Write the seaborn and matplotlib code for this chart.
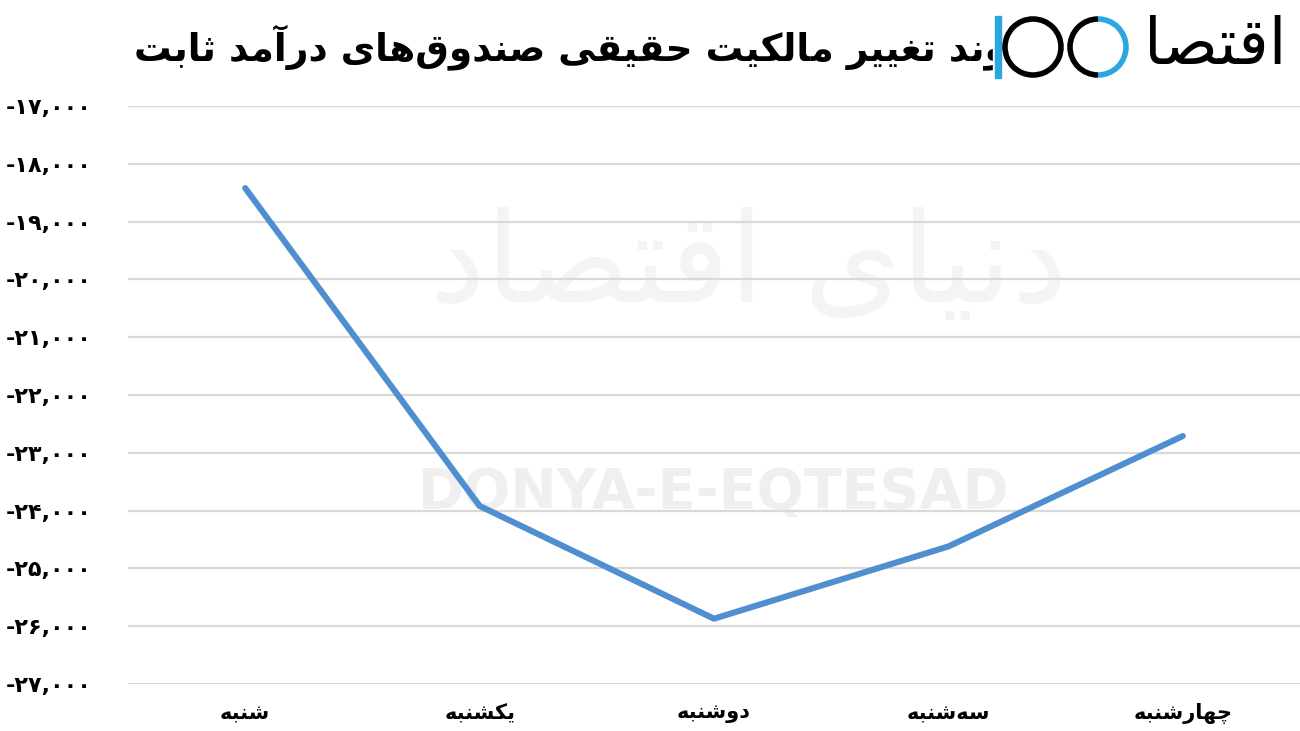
import matplotlib
matplotlib.use("Agg")
import matplotlib.pyplot as plt
import seaborn as sns
import pandas as pd
from matplotlib.patches import Rectangle, Arc

# data
title = "روند تغییر مالکیت حقیقی صندوق‌های درآمد ثابت"
days = ["شنبه", "یکشنبه", "دوشنبه", "سه‌شنبه", "چهارشنبه"]
flow = [-18420, -23920, -25870, -24620, -22710]
y_ticks = list(range(-17000, -28000, -1000))

# contextual forms (isolated, final, initial, medial) for the letters used
FORMS = {
    "ا": ("\uFE8D", "\uFE8E"), "آ": ("\uFE81", "\uFE82"),
    "د": ("\uFEA9", "\uFEAA"), "ذ": ("\uFEAB", "\uFEAC"),
    "ر": ("\uFEAD", "\uFEAE"), "ز": ("\uFEAF", "\uFEB0"),
    "و": ("\uFEED", "\uFEEE"),
    "ب": ("\uFE8F", "\uFE90", "\uFE91", "\uFE92"),
    "ت": ("\uFE95", "\uFE96", "\uFE97", "\uFE98"),
    "ث": ("\uFE99", "\uFE9A", "\uFE9B", "\uFE9C"),
    "ح": ("\uFEA1", "\uFEA2", "\uFEA3", "\uFEA4"),
    "س": ("\uFEB1", "\uFEB2", "\uFEB3", "\uFEB4"),
    "ش": ("\uFEB5", "\uFEB6", "\uFEB7", "\uFEB8"),
    "ص": ("\uFEB9", "\uFEBA", "\uFEBB", "\uFEBC"),
    "غ": ("\uFECD", "\uFECE", "\uFECF", "\uFED0"),
    "ق": ("\uFED5", "\uFED6", "\uFED7", "\uFED8"),
    "ل": ("\uFEDD", "\uFEDE", "\uFEDF", "\uFEE0"),
    "م": ("\uFEE1", "\uFEE2", "\uFEE3", "\uFEE4"),
    "ن": ("\uFEE5", "\uFEE6", "\uFEE7", "\uFEE8"),
    "ه": ("\uFEE9", "\uFEEA", "\uFEEB", "\uFEEC"),
    "ی": ("\uFBFC", "\uFBFD", "\uFBFE", "\uFBFF"),
    "ک": ("\uFB8E", "\uFB8F", "\uFB90", "\uFB91"),
    "چ": ("\uFB7A", "\uFB7B", "\uFB7C", "\uFB7D"),
}


def shape(text):
    # join Persian letters and reverse for right-to-left display
    out = []
    for i, ch in enumerate(text):
        if ch not in FORMS:
            if ch != "\u200c":
                out.append(ch)
            continue
        prev = text[i - 1] if i > 0 else ""
        nxt = text[i + 1] if i + 1 < len(text) else ""
        join_prev = prev in FORMS and len(FORMS[prev]) == 4
        join_next = len(FORMS[ch]) == 4 and nxt in FORMS
        f = FORMS[ch]
        if join_prev and join_next:
            out.append(f[3])
        elif join_prev:
            out.append(f[1])
        elif join_next:
            out.append(f[2])
        else:
            out.append(f[0])
    return "".join(out)[::-1]


fa_digits = str.maketrans("0123456789", "۰۱۲۳۴۵۶۷۸۹")

df = pd.DataFrame({"day": [shape(d) for d in days], "flow": flow})

sns.set_style("white")
plt.rcParams["font.family"] = ["DejaVu Sans"]

fig = plt.figure(figsize=(13, 7.31), dpi=100)
ax = fig.add_axes([128 / 1300, 47 / 731, 1172 / 1300, 578 / 731])

# faint watermarks
ax.text(0.5, 0.33, "DONYA-E-EQTESAD", transform=ax.transAxes, ha="center",
        va="center", fontsize=40, fontweight="bold", color="#efefef", zorder=0)
ax.text(0.53, 0.72, shape("دنیای اقتصاد"), transform=ax.transAxes, ha="center",
        va="center", fontsize=90, color="#f4f4f4", zorder=0)

sns.lineplot(data=df, x="day", y="flow", sort=False, color="#4F8FD0",
             linewidth=4.4, ax=ax, zorder=3)

ax.set_ylim(-27000, -17000)
ax.set_xlim(-0.5, 4.5)
ax.set_yticks(y_ticks)
ax.set_yticklabels([f"{v:,}".translate(fa_digits) for v in y_ticks])
ax.yaxis.grid(True, color="#d9d9d9", linewidth=1.6, zorder=1)
ax.xaxis.grid(False)
for s in ax.spines.values():
    s.set_visible(False)
ax.tick_params(axis="y", length=0, pad=26, labelsize=16, labelcolor="black")
ax.tick_params(axis="x", length=0, pad=14, labelsize=15, labelcolor="black")
for lab in ax.get_yticklabels() + ax.get_xticklabels():
    lab.set_fontweight("bold")
ax.set_xlabel("")
ax.set_ylabel("")

# title, partly hidden under the site logo
fig.text(1030 / 1300, 1 - 47 / 731, shape(title), ha="right", va="center",
         fontsize=27, fontweight="bold", color="black")

# logo block at top right
fig.patches.append(Rectangle((993 / 1300, 1 - 82 / 731), 300 / 1300, 70 / 731,
                             transform=fig.transFigure, color="white", zorder=5))
fig.patches.append(Rectangle((995 / 1300, 1 - 78 / 731), 6 / 1300, 62 / 731,
                             transform=fig.transFigure, color="#29A8E0", zorder=6))
fig.patches.append(Arc((1033 / 1300, 1 - 47 / 731), 56 / 1300, 56 / 731,
                       transform=fig.transFigure, color="black", lw=4, zorder=6))
fig.patches.append(Arc((1098 / 1300, 1 - 47 / 731), 56 / 1300, 56 / 731,
                       theta1=90, theta2=270, transform=fig.transFigure,
                       color="black", lw=4, zorder=6))
fig.patches.append(Arc((1098 / 1300, 1 - 47 / 731), 56 / 1300, 56 / 731,
                       theta1=-90, theta2=90, transform=fig.transFigure,
                       color="#29A8E0", lw=4, zorder=6))
fig.text(1286 / 1300, 1 - 46 / 731, shape("اقتصا"), ha="right", va="center",
         fontsize=46, color="black", zorder=7)

fig.savefig("out.png", dpi=100, facecolor="white")
